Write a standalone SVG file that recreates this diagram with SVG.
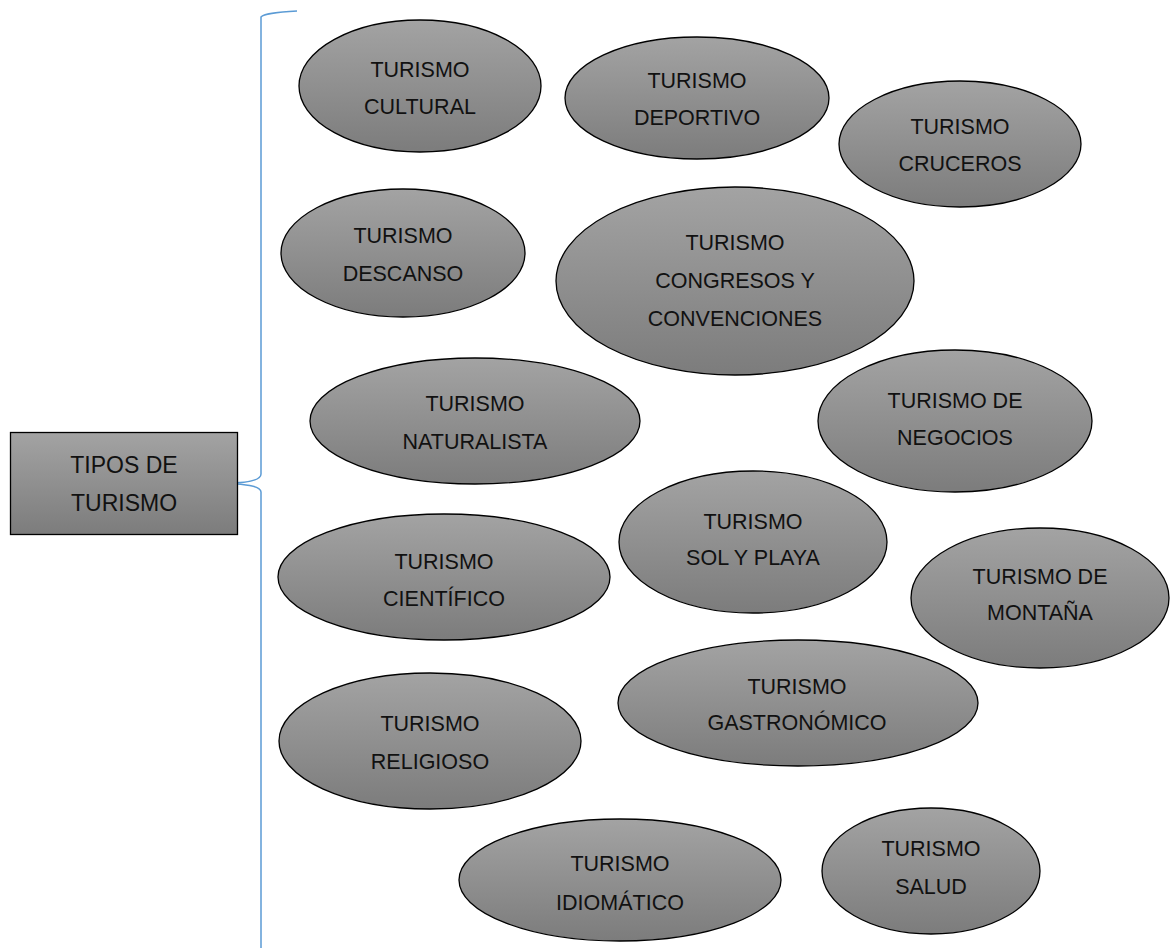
<svg xmlns="http://www.w3.org/2000/svg" width="1170" height="951" viewBox="0 0 1170 951">
<defs>
<linearGradient id="g" x1="0" y1="0" x2="0" y2="1">
<stop offset="0" stop-color="#a3a3a3"/>
<stop offset="1" stop-color="#7c7c7c"/>
</linearGradient>
<style>
.n{fill:url(#g);stroke:#000;stroke-width:1.3}
.t{font-family:"Liberation Sans",Arial,sans-serif;font-size:21.5px;fill:#111;text-anchor:middle}
.b{font-size:23px}
.c{fill:none;stroke:#5b9bd5;stroke-width:1.5}
</style>
</defs>
<rect width="1170" height="951" fill="#fff"/>
<g id="connectors">
<path class="c" d="M297,11 C280,12 264,13 261,17 L261,474 C261,482 240,483 225,483 C240,484 261,485 261,492 L261,948"/>
</g>
<g id="root">
<rect class="n" x="10.5" y="432.5" width="227" height="102"/>
<text class="t b" x="124" y="473">TIPOS DE</text>
<text class="t b" x="124" y="511">TURISMO</text>
</g>
<g id="cultural"><ellipse class="n" cx="420" cy="86" rx="121" ry="66"/><text class="t" x="420" y="77">TURISMO</text><text class="t" x="420" y="114">CULTURAL</text></g>
<g id="deportivo"><ellipse class="n" cx="697" cy="98" rx="132" ry="61"/><text class="t" x="697" y="88">TURISMO</text><text class="t" x="697" y="125">DEPORTIVO</text></g>
<g id="cruceros"><ellipse class="n" cx="960" cy="144" rx="121" ry="63"/><text class="t" x="960" y="134">TURISMO</text><text class="t" x="960" y="171">CRUCEROS</text></g>
<g id="descanso"><ellipse class="n" cx="403" cy="253" rx="122" ry="64"/><text class="t" x="403" y="243">TURISMO</text><text class="t" x="403" y="281">DESCANSO</text></g>
<g id="congresos"><ellipse class="n" cx="735" cy="281" rx="179" ry="94"/><text class="t" x="735" y="250">TURISMO</text><text class="t" x="735" y="288">CONGRESOS Y</text><text class="t" x="735" y="326">CONVENCIONES</text></g>
<g id="naturalista"><ellipse class="n" cx="475" cy="421" rx="165" ry="63"/><text class="t" x="475" y="411">TURISMO</text><text class="t" x="475" y="449">NATURALISTA</text></g>
<g id="negocios"><ellipse class="n" cx="955" cy="421" rx="137" ry="71"/><text class="t" x="955" y="408">TURISMO DE</text><text class="t" x="955" y="445">NEGOCIOS</text></g>
<g id="solyplaya"><ellipse class="n" cx="753" cy="542" rx="134" ry="71"/><text class="t" x="753" y="529">TURISMO</text><text class="t" x="753" y="565">SOL Y PLAYA</text></g>
<g id="cientifico"><ellipse class="n" cx="444" cy="577" rx="166" ry="63"/><text class="t" x="444" y="569">TURISMO</text><text class="t" x="444" y="606">CIENTÍFICO</text></g>
<g id="montana"><ellipse class="n" cx="1040" cy="598" rx="129" ry="70"/><text class="t" x="1040" y="584">TURISMO DE</text><text class="t" x="1040" y="620">MONTAÑA</text></g>
<g id="gastronomico"><ellipse class="n" cx="798" cy="703" rx="180" ry="63"/><text class="t" x="797" y="694">TURISMO</text><text class="t" x="797" y="730">GASTRONÓMICO</text></g>
<g id="religioso"><ellipse class="n" cx="430" cy="741" rx="151" ry="68"/><text class="t" x="430" y="731">TURISMO</text><text class="t" x="430" y="769">RELIGIOSO</text></g>
<g id="idiomatico"><ellipse class="n" cx="620" cy="880" rx="161" ry="61"/><text class="t" x="620" y="871">TURISMO</text><text class="t" x="620" y="910">IDIOMÁTICO</text></g>
<g id="salud"><ellipse class="n" cx="931" cy="871" rx="109" ry="63"/><text class="t" x="931" y="856">TURISMO</text><text class="t" x="931" y="894">SALUD</text></g>
</svg>
